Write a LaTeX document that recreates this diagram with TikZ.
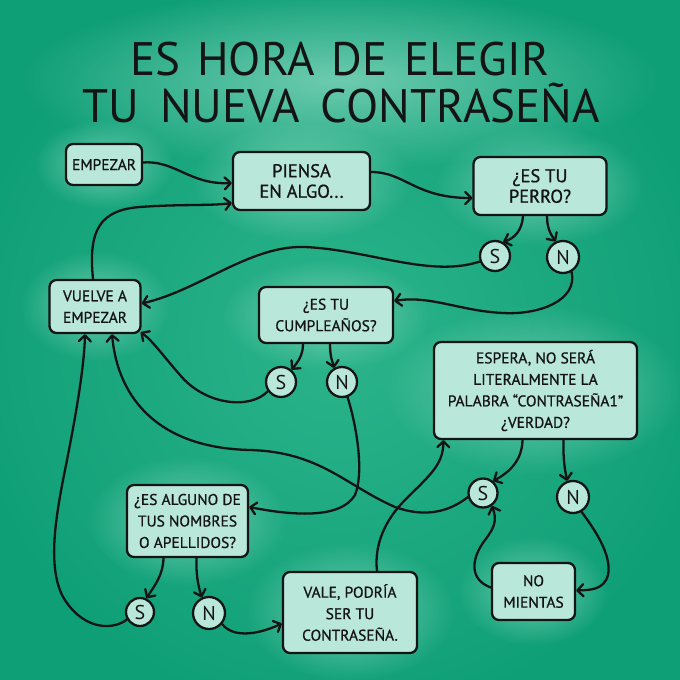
\documentclass[tikz,border=0pt]{standalone}
\usepackage{fontspec}
\setmainfont{PT Sans}
\newfontfamily\boxfont{PT Sans}[FakeBold=0.8]
\usetikzlibrary{arrows.meta,fadings}
\definecolor{bgedge}{HTML}{0F9F77}
\definecolor{bgmid}{HTML}{2CB48A}
\definecolor{glow}{HTML}{8AD8C0}
\definecolor{boxfill}{HTML}{B9E7D9}
\definecolor{ink}{HTML}{141414}
\tikzfading[name=glowfade, inner color=transparent!25, outer color=transparent!100]
\begin{document}
\begin{tikzpicture}[x=1pt,y=-1pt,
  box/.style={draw=ink, line width=2.3pt, rounded corners=7pt, fill=boxfill, align=center, inner sep=0pt, font=\boxfont\fontsize{15.5}{21.5}\selectfont, text=ink},
  bigtext/.style={font=\boxfont\fontsize{18.5}{20.5}\selectfont},
  yn/.style={circle, draw=ink, line width=2.3pt, fill=boxfill, minimum size=30pt, inner sep=0pt, font=\fontsize{20}{20}\selectfont, text=ink},
  conn/.style={draw=ink, line width=2.3pt, line cap=round, -{Straight Barb[length=6pt,width=12pt,round]}},
  title/.style={font=\fontsize{47}{47}\selectfont, text=ink, anchor=base, inner sep=0pt},
  halo/.style={fill=glow, path fading=glowfade}
]
\useasboundingbox (0,0) rectangle (680,680);
\fill[bgedge] (0,0) rectangle (680,680);
\shade[inner color=bgmid, outer color=bgedge] (-40,-40) rectangle (720,720);
% soft halos
\fill[halo] (340,80) ellipse (320 and 90);
\fill[halo] (104,164) ellipse (70 and 45);
\fill[halo] (301,181) ellipse (110 and 60);
\fill[halo] (540,186) ellipse (105 and 60);
\fill[halo] (95,306) ellipse (75 and 55);
\fill[halo] (326,315) ellipse (105 and 55);
\fill[halo] (535,390) ellipse (150 and 85);
\fill[halo] (187,521) ellipse (100 and 65);
\fill[halo] (350,612) ellipse (105 and 70);
\fill[halo] (533,591) ellipse (75 and 55);

% title
\node[title] (t1) at (340,75) {ES\hspace{0.35em}HORA\hspace{0.35em}DE\hspace{0.35em}ELEGIR};
\node[title] (t2) at (341,122) {TU\hspace{0.45em}NUEVA\hspace{0.45em}CONTRASEÑA};

% boxes
\node[box, minimum width=76pt, minimum height=41pt] (emp) at (104,164.5) {EMPEZAR};
\node[box, bigtext, minimum width=137pt, minimum height=58pt] (piensa) at (301.5,181) {PIENSA\\EN ALGO...};
\node[box, bigtext, minimum width=133pt, minimum height=58pt] (perro) at (540,186) {¿ES TU\\PERRO?};
\node[box, minimum width=91pt, minimum height=53pt] (vuelve) at (95,306.5) {VUELVE A\\EMPEZAR};
\node[box, minimum width=134pt, minimum height=56pt] (cumple) at (326,315) {¿ES TU\\CUMPLEAÑOS?};
\node[box, minimum width=203pt, minimum height=97pt] (espera) at (535.5,390.5) {ESPERA, NO SERÁ\\LITERALMENTE LA\\PALABRA “CONTRASEÑA1”\\¿VERDAD?};
\node[box, minimum width=121pt, minimum height=72pt] (alguno) at (187.5,521) {¿ES ALGUNO DE\\TUS NOMBRES\\O APELLIDOS?};
\node[box, minimum width=134pt, minimum height=81pt] (vale) at (350,612.5) {VALE, PODRÍA\\SER TU\\CONTRASEÑA.};
\node[box, minimum width=83pt, minimum height=57pt] (nomi) at (533.5,591.5) {NO\\MIENTAS};

% yes/no circles
\node[yn] (s1) at (495,256) {S};
\node[yn, minimum size=32pt] (n1) at (563,257) {N};
\node[yn] (s2) at (281,382) {S};
\node[yn] (n2) at (342,382) {N};
\node[yn, minimum size=29pt] (s3) at (483,493) {S};
\node[yn, minimum size=32pt] (n3) at (573,497) {N};
\node[yn, minimum size=28pt] (s4) at (140,612) {S};
\node[yn, minimum size=32pt] (n4) at (209,613) {N};

% connectors
\draw[conn] ([yshift=2pt]emp.east) .. controls (175,160) and (190,185) .. ([yshift=-2pt]piensa.west);
\draw[conn] ([xshift=-2pt]vuelve.north) .. controls (88,230) and (100,210) .. (140,207) .. controls (180,204) and (210,206) .. ([yshift=-22pt]piensa.west);
\draw[conn] ([yshift=9pt]piensa.east) .. controls (405,172) and (415,198) .. ([yshift=-12pt]perro.west);
\draw[conn] ([xshift=-17pt]perro.south) .. controls (522,230) and (515,238) .. (s1.60);
\draw[conn] ([xshift=7pt]perro.south) .. controls (547,230) and (552,236) .. (n1.115);
\draw[conn] (s1.200) .. controls (430,278) and (370,250) .. (305,247) .. controls (250,245) and (200,290) .. ([yshift=3pt]vuelve.east);
\draw[conn] (n1.-60) .. controls (578,300) and (540,315) .. (503,313) .. controls (460,311) and (430,295) .. ([yshift=14pt]cumple.east);
\draw[conn] ([xshift=-23pt]cumple.south) .. controls (303,355) and (298,362) .. (s2.50);
\draw[conn] ([xshift=4pt]cumple.south) .. controls (330,358) and (333,363) .. (n2.120);
\draw[conn] (s2.215) .. controls (250,410) and (205,405) .. (180,375) .. controls (165,358) and (152,340) .. ([xshift=-1pt,yshift=2pt]vuelve.south east);
\draw[conn] (n2.-70) .. controls (355,420) and (365,470) .. (355,495) .. controls (340,520) and (290,515) .. ([yshift=14pt]alguno.east);
\draw[conn] (s3.195) .. controls (445,515) and (420,516) .. (395,507) .. controls (345,485) and (320,452) .. (250,450) .. controls (160,448) and (118,400) .. ([xshift=17pt]vuelve.south);
\draw[conn] (s4.210) .. controls (110,632) and (80,628) .. (62,595) .. controls (48,565) and (55,520) .. (65,470) .. controls (75,420) and (84,370) .. ([xshift=-10pt]vuelve.south);
\draw[conn] ([xshift=-24pt]alguno.south) .. controls (163,575) and (155,585) .. (s4.65);
\draw[conn] ([xshift=9pt]alguno.south) .. controls (196,575) and (198,585) .. (n4.115);
\draw[conn] (n4.-40) .. controls (232,637) and (255,636) .. ([yshift=-11pt]vale.west);
\draw[conn] ([xshift=27pt]vale.north) .. controls (374,545) and (385,520) .. (405,500) .. controls (430,475) and (443,465) .. ([xshift=-92pt]espera.south);
\draw[conn] ([xshift=-13pt]espera.south) .. controls (522,460) and (510,472) .. (s3.50);
\draw[conn] ([xshift=28pt]espera.south) .. controls (563,460) and (565,470) .. (n3.110);
\draw[conn] ([yshift=4pt]nomi.west) .. controls (470,580) and (470,560) .. (485,540) .. controls (495,527) and (497,520) .. (s3.-55);
\draw[conn] (n3.-60) .. controls (595,530) and (612,555) .. (608,575) .. controls (604,590) and (590,590) .. ([yshift=1pt]nomi.east);
\end{tikzpicture}
\end{document}
